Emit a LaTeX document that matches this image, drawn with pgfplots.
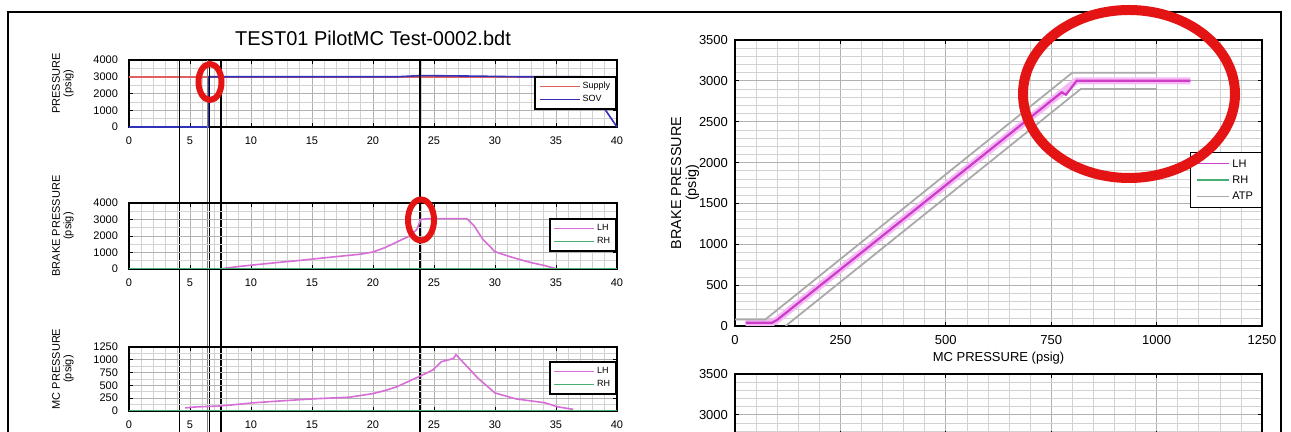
\documentclass[border=0pt]{standalone}
\usepackage{pgfplots}
\pgfplotsset{compat=1.18}
\usepackage{fontspec}
\setmainfont{Liberation Sans}
\definecolor{supplyred}{RGB}{225,95,95}
\definecolor{sovblue}{RGB}{50,50,185}
\definecolor{lhmag}{RGB}{205,60,200}
\definecolor{lhleft}{RGB}{215,110,215}
\definecolor{lhhalo}{RGB}{245,185,245}
\definecolor{rhgreen}{RGB}{70,175,115}
\definecolor{atpgray}{RGB}{170,170,170}
\definecolor{circred}{RGB}{228,20,20}
\pgfplotsset{
  matlab/.style={
    scale only axis,
    axis line style={black, line width=0.6pt},
    grid=both,
    major grid style={gray!60, line width=0.35pt},
    minor grid style={gray!35, line width=0.3pt},
    tick align=inside,
    major tick length=2pt,
    minor tick length=0pt,
    tick style={black, line width=0.4pt},
    /pgf/number format/assume math mode=true,
    /pgf/number format/1000 sep={},
    legend cell align=left,
  },
  leftax/.style={matlab, anchor=south west, width=244pt,
    xmin=0, xmax=40, xtick={0,5,...,40}, minor x tick num=4,
    tick label style={font=\fontsize{5.5}{6}\selectfont},
    xticklabel style={yshift=-1.5pt},
    yticklabel style={xshift=-2pt},
    ylabel style={align=center, font=\fontsize{5.5}{5.8}\selectfont,
      at={(axis description cs:0,0.5)}, anchor=center, yshift=33pt, xshift=5pt},
    legend image code/.code={\draw[##1, line width=0.6pt] (0pt,0pt) -- (20pt,0pt);},
    legend style={draw=black, line width=0.9pt, fill=white,
      font=\fontsize{4.5}{5}\selectfont, inner xsep=2pt, inner ysep=1.5pt,
      row sep=0pt, nodes={inner sep=1pt, text height=3.5pt, text depth=1pt}},
  },
}
\begin{document}
\begin{tikzpicture}
\useasboundingbox (0,0) rectangle (645.5pt,216pt);
\clip (0,0) rectangle (645.5pt,216pt);
\fill[white] (0,0) rectangle (645.5pt,216pt);

% ---------- left top ----------
\begin{axis}[leftax, at={(64.5pt,152.5pt)}, height=33.5pt, clip=false,
  ymin=0, ymax=4000, ytick={0,1000,...,4000}, minor y tick num=1,
  ylabel={PRESSURE\\(psig)},
  title={TEST01 PilotMC Test-0002.bdt},
  title style={font=\fontsize{10}{12}\selectfont, at={(axis description cs:0.5,1)}, anchor=center, yshift=5pt},
  legend style={at={(rel axis cs:1,0.76)}, anchor=north east}]
\addplot[supplyred, line width=0.8pt] coordinates {(0,3000) (40,3000)};
\addlegendentry{Supply}
\addplot[sovblue, line width=0.8pt] coordinates {(0,0) (6.5,0) (6.55,3000) (15,3000) (22,3000) (24,3070) (28,3040) (32,3000) (37.2,3000) (40,0)};
\addlegendentry{SOV}
\draw[black, line width=0.7pt] (axis cs:4.15,4000) -- (axis cs:4.15,-20000);
\draw[gray, line width=0.5pt] (axis cs:6.42,4000) -- (axis cs:6.42,-20000);
\draw[black, line width=0.5pt] (axis cs:6.62,4000) -- (axis cs:6.62,-20000);
\draw[black, line width=0.7pt] (axis cs:7.55,4000) -- (axis cs:7.55,-20000);
\draw[black, line width=0.7pt] (axis cs:23.85,4000) -- (axis cs:23.85,-20000);
\end{axis}

% ---------- left middle ----------
\begin{axis}[leftax, at={(64.5pt,81.5pt)}, height=33pt,
  ymin=0, ymax=4000, ytick={0,1000,...,4000}, minor y tick num=1,
  ylabel={BRAKE PRESSURE\\(psig)},
  legend style={at={(rel axis cs:1,0.773)}, anchor=north east}]
\addplot[lhleft, line width=0.8pt] coordinates {(7.5,0) (8,60) (9,150) (10,230) (12,380) (14,520) (15,600) (17,750) (19,900) (20,1030) (21,1300) (22,1650) (23,2000) (23.6,2400) (23.9,3000) (24.5,3050) (27.7,3050) (28.3,2600) (29,1800) (30,1050) (31,800) (32,580) (33,380) (34,220) (35,20)};
\addlegendentry{LH}
\addplot[rhgreen, line width=0.8pt] coordinates {(0,0) (40,0)};
\addlegendentry{RH}
\end{axis}

% ---------- left bottom ----------
\begin{axis}[leftax, at={(64.5pt,10.5pt)}, height=32pt,
  ymin=0, ymax=1250, ytick={0,250,...,1250}, minor y tick num=1,
  ylabel={MC PRESSURE\\(psig)},
  legend style={at={(rel axis cs:1,0.78)}, anchor=north east}]
\addplot[lhleft, line width=0.8pt] coordinates {(4.6,60) (5.5,80) (7.3,96) (8.5,120) (10.2,160) (12,190) (15.1,237) (18.1,270) (20,340) (21,400) (21.9,468) (23.2,609) (24.2,720) (24.9,801) (25.6,962) (26.6,1026) (26.8,1100) (27.6,897) (28.6,641) (30,353) (31.7,237) (34.1,160) (35.1,83) (36.4,32)};
\addlegendentry{LH}
\addplot[rhgreen, line width=0.8pt] coordinates {(0,0) (40,0)};
\addlegendentry{RH}
\end{axis}

% ---------- right main ----------
\begin{axis}[matlab, at={(367.5pt,53pt)}, anchor=south west, width=263.5pt, height=143pt,
  xmin=0, xmax=1250, xtick={0,250,...,1250}, minor x tick num=4,
  ymin=0, ymax=3500, ytick={0,500,...,3500}, minor y tick num=4,
  tick label style={font=\fontsize{6.5}{7}\selectfont},
  xticklabel style={yshift=-1pt},
  xlabel={MC PRESSURE (psig)},
  xlabel style={font=\fontsize{6.5}{7}\selectfont, at={(axis description cs:0.5,0)}, anchor=center, yshift=-16pt},
  ylabel={BRAKE PRESSURE\\(psig)},
  ylabel style={align=center, font=\fontsize{7.2}{7.5}\selectfont, at={(axis description cs:0,0.5)}, anchor=center, yshift=25pt},
  legend image code/.code={\draw[#1, line width=0.6pt] (0pt,0pt) -- (16pt,0pt);},
  legend style={draw=black, line width=0.6pt, fill=white, at={(rel axis cs:1,0.608)}, anchor=north east,
    font=\fontsize{5.5}{6}\selectfont, inner xsep=3pt, inner ysep=1.5pt, row sep=0pt,
    nodes={inner sep=1.2pt, text height=4.5pt, text depth=1.2pt}}]
\addplot[lhhalo, line width=3.5pt, forget plot] coordinates {(25,40) (88,40) (100,75) (810,3000) (1080,3000)};
\addplot[lhmag, line width=1.1pt] coordinates {(25,40) (88,40) (100,75) (400,1310) (700,2550) (775,2860) (785,2830) (810,3000) (1080,3000)};
\addlegendentry{LH}
\addlegendimage{rhgreen, line width=0.8pt}
\addlegendentry{RH}
\addplot[atpgray, line width=0.9pt] coordinates {(0,80) (72,80) (800,3100) (1000,3100)};
\addlegendentry{ATP}
\addplot[atpgray, line width=0.9pt, forget plot] coordinates {(120,0) (820,2900) (1000,2900)};
\end{axis}

% ---------- right second (only its top shows) ----------
\begin{axis}[matlab, at={(367.5pt,29pt)}, anchor=north west, width=263.5pt, height=30.6pt,
  xmin=0, xmax=1250, xtick={0,250,...,1250}, minor x tick num=4, xticklabels={},
  ymin=2750, ymax=3500, ytick={3000,3500}, minor ytick={2800,2900,3100,3200,3300,3400},
  tick label style={font=\fontsize{6.5}{7}\selectfont}]
\addplot[draw=none, forget plot] coordinates {(0,2750) (1250,3500)};
\end{axis}

% ---------- annotations (pixel coordinates) ----------
\begin{scope}[x=0.5pt, y=-0.5pt, yshift=216pt]
\draw[black, line width=1pt] (8,12) rectangle (1281,445);
\draw[circred, line width=3pt] (210,82) ellipse [x radius=11.5, y radius=18];
\draw[circred, line width=3pt] (421,220) ellipse [x radius=13, y radius=20.5];
\draw[circred, line width=5pt] (1129,94) ellipse [x radius=106, y radius=84];
\end{scope}
\end{tikzpicture}
\end{document}
